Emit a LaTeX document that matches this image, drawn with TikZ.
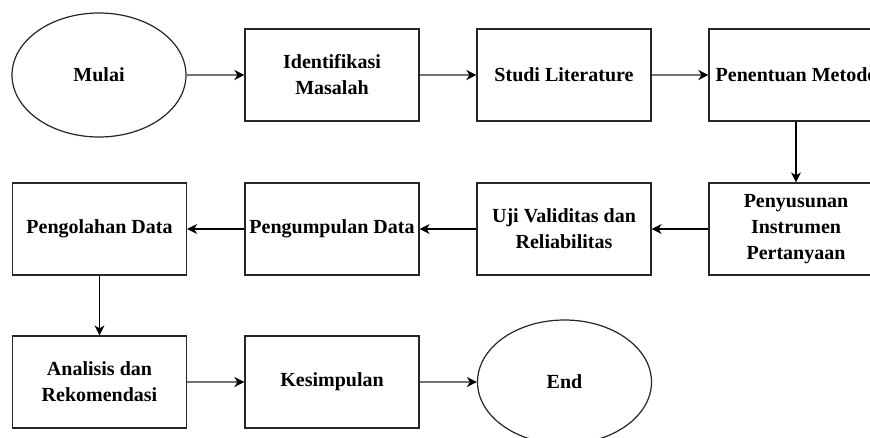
\documentclass[tikz,border=0pt]{standalone}
\usepackage{fontspec}
\setmainfont{Liberation Serif}
\usetikzlibrary{shapes.geometric,arrows.meta}
\begin{document}
\begin{tikzpicture}[x=1pt,y=-1pt,
  box/.style={draw=black!85,line width=1.2pt,minimum width=174pt,minimum height=92pt,inner sep=0pt,align=center,font=\fontsize{20}{26}\selectfont\bfseries},
  oval/.style={ellipse,draw=black!85,line width=1.2pt,minimum width=174pt,minimum height=124pt,inner sep=0pt,align=center,font=\fontsize{20}{26}\selectfont\bfseries},
  arr/.style={draw=black!55,line width=2pt,-{Stealth[length=10pt,width=10pt,inset=3pt,color=black]}},
  arrd/.style={draw=black,line width=1.2pt,-{Stealth[length=10pt,width=10pt,inset=3pt,color=black]}}]
\useasboundingbox (0,0) rectangle (870,437);
\fill[white] (0,0) rectangle (870,437);
% row 1
\node[oval] (mulai) at (99,75) {Mulai};
\node[box] (ident) at (332,75) {Identifikasi\\Masalah};
\node[box] (studi) at (564,75) {Studi Literature};
\node[box] (metode) at (796,75) {Penentuan Metode};
% row 2
\node[box] (olah) at (99.5,229) {Pengolahan Data};
\node[box] (kumpul) at (332,229) {Pengumpulan Data};
\node[box] (uji) at (564,229) {Uji Validitas dan\\Reliabilitas};
\node[box] (susun) at (796,229) {Penyusunan\\Instrumen\\Pertanyaan};
% row 3
\node[box] (analisis) at (99.5,382) {Analisis dan\\Rekomendasi};
\node[box] (simpul) at (332,382) {Kesimpulan};
\node[oval] (end) at (564.5,382) {End};
% connectors
\draw[arr] (mulai) -- (ident);
\draw[arr] (ident) -- (studi);
\draw[arr] (studi) -- (metode);
\draw[arrd] (metode) -- (susun);
\draw[arrd] (susun) -- (uji);
\draw[arrd] (uji) -- (kumpul);
\draw[arrd] (kumpul) -- (olah);
\draw[arrd] (olah) -- (analisis);
\draw[arr] (analisis) -- (simpul);
\draw[arr] (simpul) -- (end);
\end{tikzpicture}
\end{document}
